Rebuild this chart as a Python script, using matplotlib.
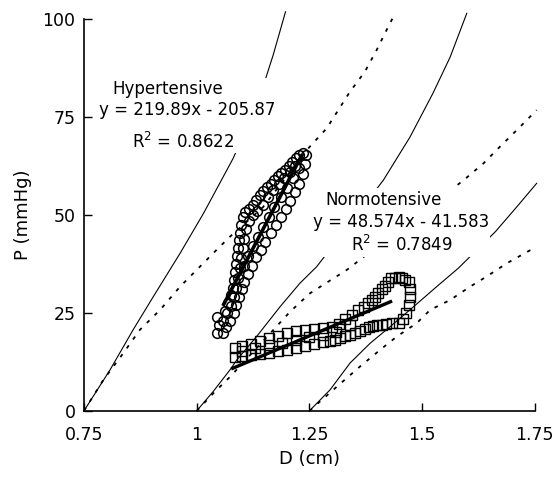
import matplotlib
matplotlib.use("Agg")
from matplotlib import pyplot as plt
from matplotlib.patches import Rectangle

# Reference curves, one origin per diameter 0.75 / 1 / 1.25
CURVE1_SOLID_D = [0.75, 0.808, 0.859, 0.904, 0.963, 1.015, 1.059, 1.081, 1.14, 1.17, 1.197]
CURVE1_SOLID_P = [0, 10.5, 20.7, 29.2, 40.2, 50.4, 59.8, 64.5, 80.2, 91, 101.9]
CURVE1_DOT_D = [0.75, 0.793, 0.837, 0.874, 0.919, 0.963, 1.007, 1.044, 1.074, 1.147, 1.244, 1.288, 1.340, 1.373, 1.399, 1.421, 1.440]
CURVE1_DOT_P = [0, 7.9, 14.7, 20.7, 25.8, 31.7, 36.8, 41.1, 44.5, 52, 66.6, 72.1, 81.5, 86.6, 92.1, 97.2, 101.5]

CURVE2_SOLID_D = [1.0, 1.037, 1.074, 1.089, 1.133, 1.185, 1.229, 1.266, 1.414, 1.473, 1.524, 1.562, 1.599]
CURVE2_SOLID_P = [0, 5.0, 10.5, 13.0, 19.0, 26.6, 32.6, 36.8, 58.9, 69.9, 81.1, 90.3, 101.5]
CURVE2_DOT_D = [1.0, 1.037, 1.074, 1.163, 1.207, 1.251, 1.296, 1.333, 1.592, 1.636, 1.673, 1.710, 1.754]
CURVE2_DOT_P = [0, 4.5, 8.7, 19.8, 25.3, 30.0, 33.3, 36.0, 58.9, 63.2, 67.5, 71.7, 76.8]

CURVE3_SOLID_D = [1.25, 1.296, 1.340, 1.385, 1.429, 1.481, 1.532, 1.580, 1.662, 1.710, 1.754]
CURVE3_SOLID_P = [0, 5.4, 12.2, 17.3, 21.5, 26.6, 31.7, 36.4, 45.7, 52.1, 58.1]
CURVE3_DOT_D = [1.25, 1.311, 1.362, 1.407, 1.444, 1.488, 1.518, 1.562, 1.606, 1.643, 1.688, 1.747]
CURVE3_DOT_P = [0, 6.2, 11.3, 15.6, 19.0, 22.4, 25.8, 28.3, 31.7, 34.3, 37.7, 41.5]

# Hypertensive loop (circles): upper branch, lower branch, points inside the band
HYPER_D = [1.045, 1.050, 1.046, 1.058, 1.062, 1.070, 1.076, 1.080, 1.083, 1.086, 1.088, 1.090,
           1.091, 1.093, 1.095, 1.098, 1.102, 1.108, 1.116, 1.124, 1.132, 1.140, 1.148, 1.156,
           1.164, 1.172, 1.180, 1.188, 1.196, 1.204, 1.212, 1.220, 1.228, 1.236, 1.243,
           1.240, 1.236, 1.228, 1.218, 1.208, 1.198, 1.188, 1.176, 1.164, 1.152, 1.142, 1.132,
           1.122, 1.114, 1.106, 1.100, 1.094, 1.088, 1.082, 1.074, 1.066, 1.058,
           1.068, 1.076, 1.082, 1.088, 1.092, 1.096, 1.099, 1.102, 1.106, 1.110, 1.116, 1.124,
           1.134, 1.146, 1.158, 1.170, 1.182, 1.194, 1.206, 1.218, 1.226, 1.214, 1.200, 1.186,
           1.172, 1.160, 1.148, 1.136, 1.124, 1.114, 1.106]
HYPER_P = [19.8, 22.0, 24.0, 23.0, 25.5, 27.5, 29.5, 31.5, 33.5, 35.5, 37.5, 39.5,
           41.5, 43.5, 45.5, 47.5, 49.5, 50.8, 51.5, 52.5, 53.8, 55.0, 56.2, 57.2,
           58.0, 59.0, 60.0, 60.8, 61.6, 62.6, 63.6, 64.5, 65.3, 65.8, 65.3,
           63.0, 60.5, 58.0, 55.8, 53.5, 51.5, 49.5, 47.5, 45.5, 43.2, 41.2, 39.2,
           37.0, 35.0, 33.0, 31.0, 29.0, 27.0, 25.0, 23.0, 21.3, 20.0,
           25.0, 26.8, 29.0, 31.5, 34.0, 36.5, 39.0, 41.5, 44.0, 46.5, 48.5, 50.0,
           51.0, 52.5, 54.5, 56.5, 58.0, 59.5, 61.0, 62.5, 62.0, 59.5, 57.0, 54.5,
           52.0, 49.5, 47.0, 44.5, 42.0, 39.5, 37.0]

# Normotensive loop (squares): bottom row, top of band, upper branch, right side, lower branch, fill
NORMO_D = [1.085, 1.100, 1.120, 1.140, 1.160, 1.180, 1.200, 1.220, 1.240, 1.260, 1.280,
           1.085, 1.100, 1.120, 1.140, 1.160, 1.180, 1.200, 1.220, 1.240, 1.260, 1.280,
           1.300, 1.315, 1.330, 1.345, 1.358, 1.370, 1.380, 1.388, 1.395, 1.403, 1.410,
           1.417, 1.424, 1.432, 1.440, 1.448, 1.455, 1.463, 1.470,
           1.473, 1.473, 1.470, 1.465, 1.458, 1.448,
           1.433, 1.420, 1.410, 1.400, 1.390, 1.382, 1.373, 1.362, 1.350, 1.340, 1.330,
           1.318, 1.307, 1.295,
           1.100, 1.130, 1.160, 1.190, 1.220, 1.250, 1.280, 1.310, 1.340]
NORMO_P = [13.8, 13.9, 14.2, 14.5, 14.8, 15.2, 15.5, 16.0, 16.5, 17.0, 17.5,
           16.0, 16.5, 17.0, 17.8, 18.5, 19.2, 19.8, 20.3, 20.6, 21.0, 21.2,
           21.4, 22.3, 23.5, 24.6, 25.8, 26.5, 27.5, 28.3, 29.1, 30.0, 31.0,
           32.0, 33.0, 33.8, 34.0, 34.2, 33.8, 33.5, 33.0,
           31.0, 29.0, 27.0, 25.0, 23.5, 22.5,
           22.5, 22.3, 22.0, 21.8, 21.6, 21.3, 21.0, 20.5, 20.0, 19.5, 19.0,
           18.6, 18.1, 17.8,
           15.2, 16.0, 16.7, 17.4, 18.2, 18.8, 19.4, 20.2, 21.8]

# Trendlines as printed on the chart
HYPER_SLOPE, HYPER_INTERCEPT = 219.89, -205.87
NORMO_SLOPE, NORMO_INTERCEPT = 48.574, -41.583
HYPER_FIT_RANGE = [1.06, 1.232]
NORMO_FIT_RANGE = [1.08, 1.43]

X_TICKS = [0.75, 1, 1.25, 1.5, 1.75]
X_TICK_LABELS = ["0.75", "1", "1.25", "1.5", "1.75"]
Y_TICKS = [0, 25, 50, 75, 100]

DOTTED = (0, (2, 4))

fig = plt.figure(figsize=(5.56, 4.8), dpi=100)
ax = fig.add_axes([0.151, 0.144, 0.811, 0.816])

# Model curves
for d, p in [(CURVE1_SOLID_D, CURVE1_SOLID_P), (CURVE2_SOLID_D, CURVE2_SOLID_P), (CURVE3_SOLID_D, CURVE3_SOLID_P)]:
	ax.plot(d, p, color="black", lw=0.8, clip_on=False, zorder=1)
for d, p in [(CURVE1_DOT_D, CURVE1_DOT_P), (CURVE2_DOT_D, CURVE2_DOT_P), (CURVE3_DOT_D, CURVE3_DOT_P)]:
	ax.plot(d, p, color="black", lw=1.3, linestyle=DOTTED, clip_on=False, zorder=1)

# Measured loops
ax.plot(HYPER_D, HYPER_P, linestyle="none", marker="o", markersize=7,
	markerfacecolor="none", markeredgecolor="black", markeredgewidth=1.1, zorder=2)
ax.plot(NORMO_D, NORMO_P, linestyle="none", marker="s", markersize=7.5,
	markerfacecolor="none", markeredgecolor="black", markeredgewidth=1.0, zorder=2)

# Trendlines
hyper_fit = [HYPER_SLOPE * x + HYPER_INTERCEPT for x in HYPER_FIT_RANGE]
normo_fit = [NORMO_SLOPE * x + NORMO_INTERCEPT for x in NORMO_FIT_RANGE]
ax.plot(HYPER_FIT_RANGE, hyper_fit, color="black", lw=2.6, zorder=3)
ax.plot(NORMO_FIT_RANGE, normo_fit, color="black", lw=2.4, zorder=3)

# Label boxes (white background hides the curves behind)
ax.add_patch(Rectangle((0.029, 0.658), 0.406, 0.191, transform=ax.transAxes,
	facecolor="white", edgecolor="none", zorder=4))
ax.add_patch(Rectangle((0.508, 0.393), 0.392, 0.176, transform=ax.transAxes,
	facecolor="white", edgecolor="none", zorder=4))

text_kw = dict(transform=ax.transAxes, ha="center", va="center", fontsize=12, zorder=5)
ax.text(0.186, 0.821, "Hypertensive", **text_kw)
ax.text(0.228, 0.768, "y = 219.89x - 205.87", **text_kw)
ax.text(0.220, 0.686, "R$^2$ = 0.8622", **text_kw)
ax.text(0.664, 0.538, "Normotensive", **text_kw)
ax.text(0.703, 0.482, "y = 48.574x - 41.583", **text_kw)
ax.text(0.705, 0.423, "R$^2$ = 0.7849", **text_kw)

# Axes
ax.set_xlim(0.75, 1.75)
ax.set_ylim(0, 100)
ax.set_xticks(X_TICKS)
ax.set_xticklabels(X_TICK_LABELS)
ax.set_yticks(Y_TICKS)
ax.spines["top"].set_visible(False)
ax.spines["right"].set_visible(False)
ax.spines["left"].set_linewidth(1.2)
ax.spines["bottom"].set_linewidth(1.2)
ax.tick_params(axis="both", direction="in", length=6, width=1, labelsize=12.5)
ax.tick_params(axis="x", pad=11)
ax.tick_params(axis="y", pad=6)
ax.set_xlabel("D (cm)", fontsize=13, labelpad=4)
ax.set_ylabel("P (mmHg)", fontsize=13, labelpad=8)

plt.savefig("out.png", dpi=100)
